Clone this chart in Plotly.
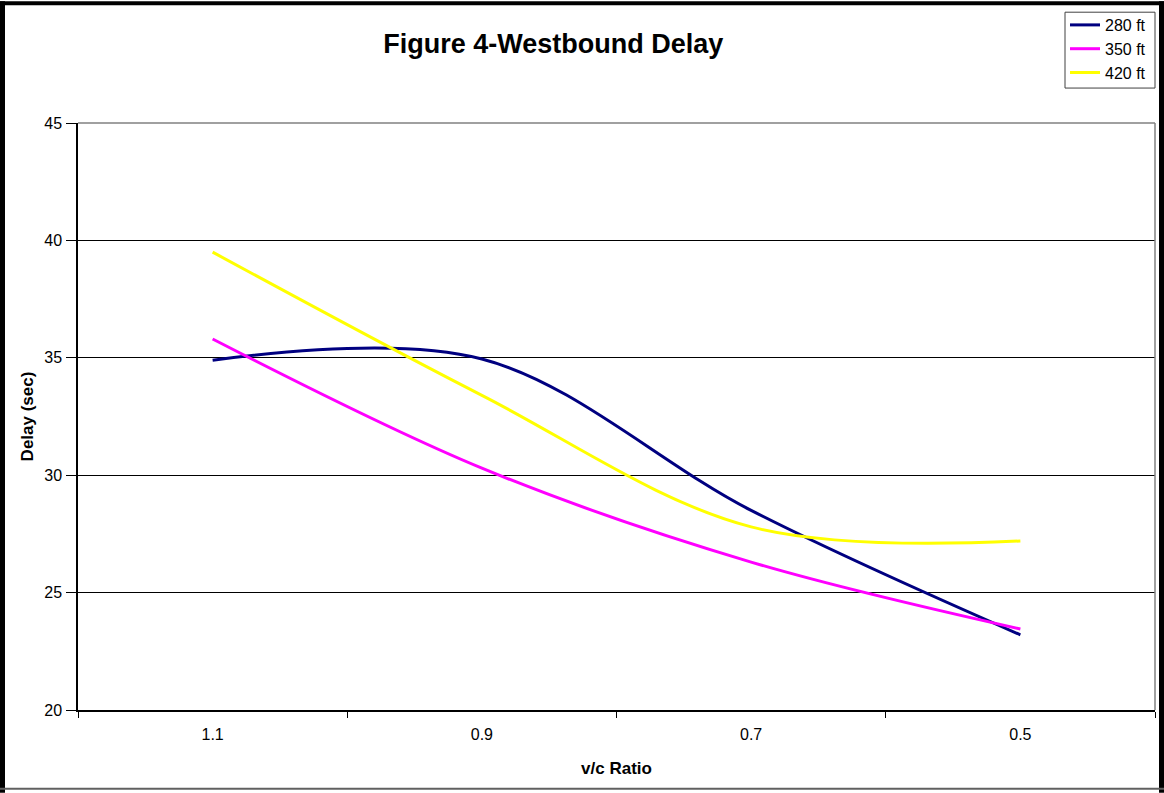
import plotly.graph_objects as go

categories = ["1.1", "0.9", "0.7", "0.5"]
delay_280 = [34.9, 34.95, 28.5, 23.2]
delay_350 = [35.8, 30.3, 26.3, 23.45]
delay_420 = [39.5, 33.4, 27.8, 27.2]

series = [
    ("280 ft", delay_280, "#000080"),
    ("350 ft", delay_350, "#FF00FF"),
    ("420 ft", delay_420, "#FFFF00"),
]

W, H = 1164, 793
L, R, T, B = 78, 1155, 122, 710


def px(x):
    return (x - L) / (R - L)


def py(y):
    return (B - y) / (B - T)


fig = go.Figure()
for name, vals, col in series:
    fig.add_trace(go.Scatter(
        x=categories, y=vals, name=name, mode="lines",
        line=dict(color=col, width=3, shape="spline", smoothing=1.0),
    ))

shapes = []
# plot-area border (gray top & right)
shapes.append(dict(type="line", xref="paper", yref="paper", x0=0, x1=1, y0=1, y1=1,
                   line=dict(color="#808080", width=1.5), layer="above"))
shapes.append(dict(type="line", xref="paper", yref="paper", x0=1, x1=1, y0=0, y1=1,
                   line=dict(color="#808080", width=1.5), layer="above"))
# legend box
shapes.append(dict(type="rect", xref="paper", yref="paper",
                   x0=px(1065), x1=px(1155), y0=py(87), y1=py(11),
                   fillcolor="white", line=dict(color="#404040", width=1), layer="above"))
# outer chart frame
for (x0, y0, x1, y1, c) in [(0, 0, 5, H, "black"), (0, 0, W, 4, "black"),
                            (1159, 0, W, H, "black"), (0, 788, W, 790, "#606060")]:
    shapes.append(dict(type="rect", xref="paper", yref="paper",
                       x0=px(x0), x1=px(x1), y0=py(y1), y1=py(y0),
                       fillcolor=c, line=dict(width=0), layer="above"))

fig.update_layout(
    width=W, height=H,
    margin=dict(l=L, r=W - R, t=T, b=H - B, pad=0),
    paper_bgcolor="white", plot_bgcolor="white",
    font=dict(family="Liberation Sans, Arial, sans-serif", color="black", size=16),
    title=dict(text="<b>Figure 4-Westbound Delay</b>", x=px(590), xanchor="center",
               y=1 - 44 / H, yanchor="middle", font=dict(size=27)),
    showlegend=True,
    legend=dict(x=px(1065), y=py(8), xanchor="left", yanchor="top",
                borderwidth=0, bgcolor="rgba(0,0,0,0)",
                font=dict(size=16), tracegroupgap=0, itemwidth=30),
    shapes=shapes,
    xaxis=dict(
        type="category", range=[-0.5, 3.5], tickson="boundaries",
        ticks="outside", ticklen=6, tickcolor="black", tickwidth=1,
        showline=True, linecolor="black", linewidth=1.5, showgrid=False,
        tickfont=dict(size=16), ticklabelstandoff=9,
        title=dict(text="<b>v/c Ratio</b>", font=dict(size=17), standoff=20),
    ),
    yaxis=dict(
        range=[20, 45], dtick=5, ticks="outside", ticklen=10, tickcolor="black",
        showline=True, linecolor="black", linewidth=1.5,
        showgrid=True, gridcolor="black", gridwidth=1, zeroline=False,
        tickfont=dict(size=16), ticklabelstandoff=1,
        title=dict(text="<b>Delay (sec)</b>", font=dict(size=17), standoff=6),
    ),
)

fig.write_html("out.html")
